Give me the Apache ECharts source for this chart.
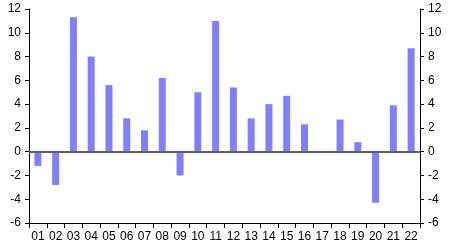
<!DOCTYPE html>
<html><head><meta charset="utf-8">
<script src="https://cdn.jsdelivr.net/npm/echarts@6/dist/echarts.min.js"></script>
<style>html,body{margin:0;padding:0;background:#fff}#c{width:449px;height:247px}</style>
</head><body><div id="c"></div>
<script>
const categories = ['01','02','03','04','05','06','07','08','09','10','11','12','13','14','15','16','17','18','19','20','21','22'];
const values = [-1.2,-2.8,11.3,8.0,5.6,2.8,1.8,6.2,-2.0,5.0,11.0,5.4,2.8,4.0,4.7,2.3,-0.1,2.7,0.8,-4.3,3.9,8.7];
const yMin = -6, yMax = 12, yStep = 2;

const font = {fontFamily:'Liberation Sans, Arial, sans-serif', fontSize:12, color:'#000'};
const yAxisBase = {
  type:'value', min:yMin, max:yMax, interval:yStep,
  axisLine:{show:true, lineStyle:{color:'#000', width:1}},
  axisTick:{show:true, length:4, lineStyle:{color:'#000'}},
  axisLabel:Object.assign({margin:8}, font),
  splitLine:{show:false}
};
const chart = echarts.init(document.getElementById('c'), null, {renderer:'canvas'});
chart.setOption({
  animation:false,
  grid:{left:29, right:29, top:9, bottom:24, containLabel:false},
  xAxis:{
    type:'category', data:categories, position:'bottom',
    axisLine:{onZero:false, lineStyle:{color:'#000', width:1}},
    axisTick:{show:true, length:5, alignWithLabel:false, lineStyle:{color:'#000'}},
    axisLabel:Object.assign({margin:8, interval:0}, font)
  },
  yAxis:[Object.assign({position:'left'}, yAxisBase), Object.assign({position:'right'}, yAxisBase)],
  series:[{
    type:'bar', data:values, barWidth:7,
    itemStyle:{color:'#8080ff'},
    markLine:{
      silent:true, symbol:'none', label:{show:false},
      lineStyle:{color:'#606060', width:2, type:'solid'},
      data:[{yAxis:0}]
    }
  }]
});
</script></body></html>
